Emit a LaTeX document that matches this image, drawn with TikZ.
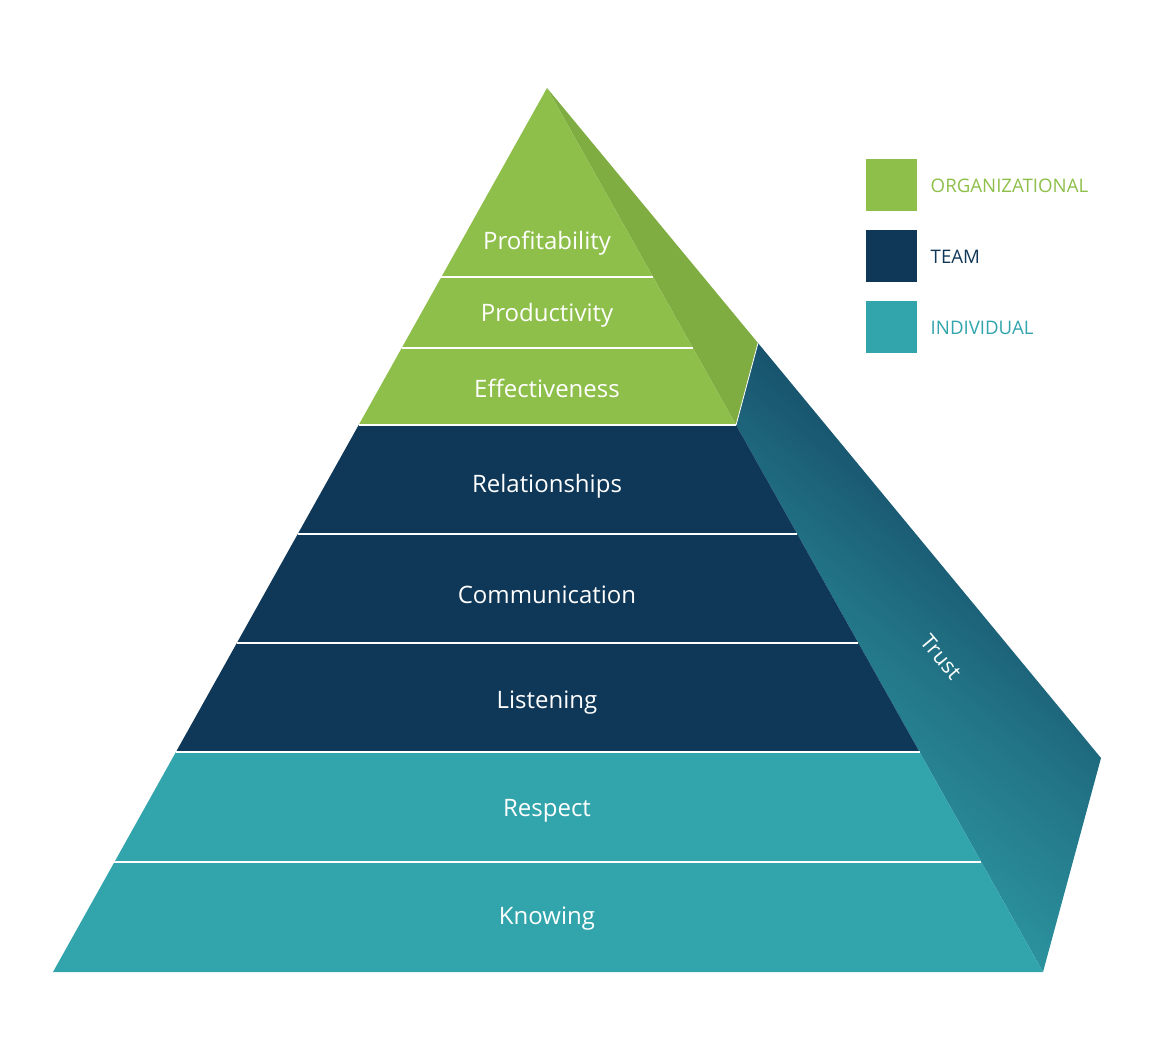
\documentclass[tikz,border=0pt]{standalone}
\usepackage{fontspec}
\setmainfont{Open Sans}
\usetikzlibrary{calc}
\definecolor{gr}{HTML}{8EBF4A}
\definecolor{grd}{HTML}{7FAD42}
\definecolor{nv}{HTML}{0F3757}
\definecolor{tl}{HTML}{31A4AC}
\begin{document}
\begin{tikzpicture}[x=0.75pt,y=-0.75pt,
  lab/.style={text=white,font=\fontsize{18}{21}\selectfont},
  leg/.style={font=\fontsize{14}{16}\selectfont,anchor=west},
  sep/.style={white,line width=1.3pt}]
\useasboundingbox (0,0) rectangle (1158,1061);
\coordinate (A) at (547,88);
\coordinate (BL) at (53,972);
\coordinate (BR) at (1043,972);
\coordinate (S1) at (758,343);
\coordinate (S2) at (1101,758);
\foreach \n/\t in {a/0.2138,b/0.2941,c/0.3812,d/0.5045,e/0.6278,f/0.7511,g/0.8756}{
  \coordinate (L\n) at ($(A)!\t!(BL)$);
  \coordinate (R\n) at ($(A)!\t!(BR)$);
}
% side faces
\fill[grd] (A) -- (S1) -- (Rc) -- cycle;
\shade[top color=nv,bottom color=tl,middle color=nv!45!tl,shading angle=-40] (S1) -- (S2) -- (BR) -- (Rc) -- cycle;
\draw[white,line width=0.6pt] (S1) -- (Rc);
% front
\fill[gr] (A) -- (Lc) -- (Rc) -- cycle;
\fill[nv] (Lc) -- (Rc) -- (Rf) -- (Lf) -- cycle;
\fill[tl] (Lf) -- (Rf) -- (BR) -- (BL) -- cycle;
\foreach \n in {a,b,c,d,e,f,g}{\draw[sep] (L\n) -- (R\n);}
\node[lab] (p1) at (547,243) {Profitability};
\node[lab] (p2) at (547,315) {Productivity};
\node[lab] (p3) at (547,388) {Effectiveness};
\node[lab] (p4) at (547,486) {Relationships};
\node[lab] (p5) at (547,595) {Communication};
\node[lab] (p6) at (547,703) {Listening};
\node[lab] (p7) at (547,811) {Respect};
\node[lab] (p8) at (547,919) {Knowing};
\node[text=white,rotate=-50,font=\fontsize{16}{18}\selectfont,inner sep=0pt] (tr) at (941,657) {Trust};
% legend
\fill[gr] (866,159) rectangle (917,211);
\fill[nv] (866,230) rectangle (917,282);
\fill[tl] (866,301) rectangle (917,353);
\node[leg,text=gr] (l1) at (926,186) {ORGANIZATIONAL};
\node[leg,text=nv] (l2) at (926,257) {TEAM};
\node[leg,text=tl] (l3) at (926,328) {INDIVIDUAL};
\end{tikzpicture}
\end{document}
